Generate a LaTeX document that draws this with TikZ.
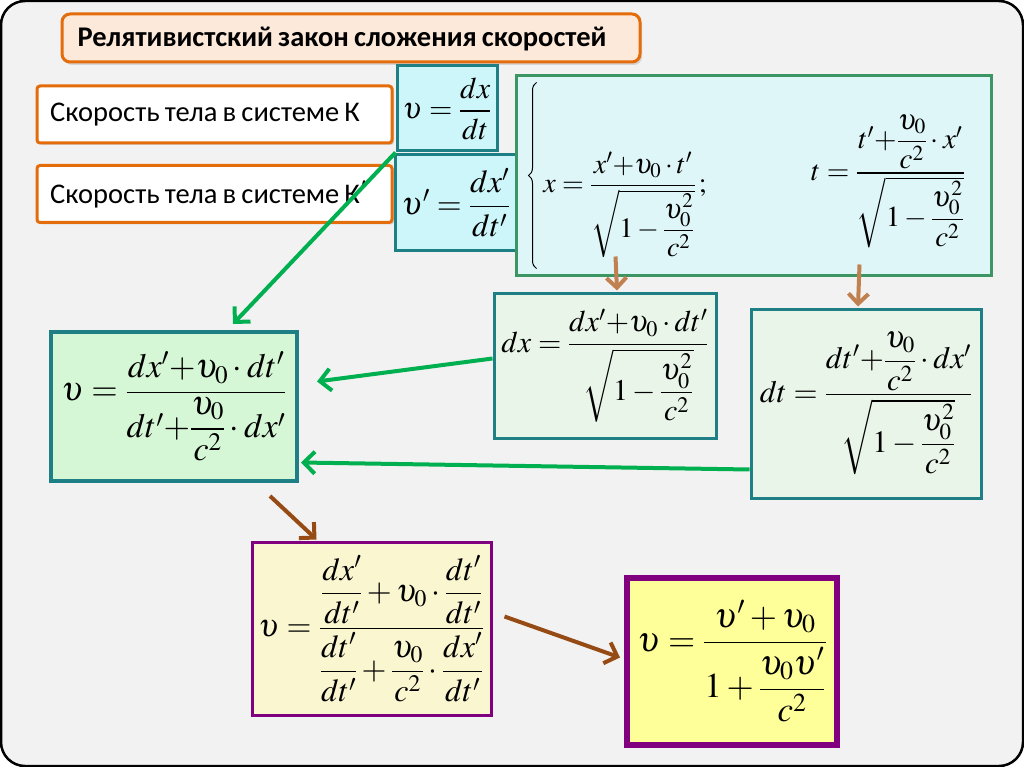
\RequirePackage{fix-cm}
\documentclass[tikz,border=0pt]{standalone}
\usepackage{amsmath}
\usepackage{mathptmx}
\usepackage[no-math]{fontspec}
\setmainfont{Carlito}[WordSpace=0.8]
\usetikzlibrary{arrows.meta,shadows,calc,decorations.pathreplacing}
\definecolor{orangeB}{RGB}{228,108,10}
\definecolor{peach}{RGB}{253,233,217}
\definecolor{tealB}{RGB}{30,128,132}
\definecolor{cyanF}{RGB}{204,246,250}
\definecolor{cyanL}{RGB}{222,246,248}
\definecolor{greenB}{RGB}{60,150,100}
\definecolor{lgreenF}{RGB}{232,245,232}
\definecolor{vgreenF}{RGB}{214,247,214}
\definecolor{purpleB}{RGB}{128,0,128}
\definecolor{lyellow}{RGB}{250,246,208}
\definecolor{yellowF}{RGB}{255,255,153}
\definecolor{arrGreen}{RGB}{0,176,80}
\definecolor{brownL}{RGB}{192,128,80}
\definecolor{brownD}{RGB}{150,75,20}
\definecolor{bgc}{RGB}{242,242,242}
\newcommand{\myfs}[1]{\fontsize{#1}{#1}\selectfont}
\begin{document}
\begin{tikzpicture}[x=1pt,y=-1pt,
  labelbox/.style={draw=orangeB, line width=3pt, fill=white, rounded corners=3pt,
    minimum width=355pt, minimum height=57pt,
    drop shadow={shadow xshift=2pt, shadow yshift=-2pt, opacity=0.25}},
  labeltext/.style={anchor=west, inner sep=0pt, font=\myfs{28.5}},
  tealbox/.style={draw=tealB, line width=3pt, inner sep=0pt},
  garrow/.style={draw=arrGreen, line width=4pt, -{Straight Barb[length=11pt,width=22pt]}},
  larrow/.style={draw=brownL, line width=4pt, -{Straight Barb[length=10pt,width=20pt]}},
  darrow/.style={draw=brownD, line width=4pt, -{Straight Barb[length=11pt,width=22pt]}}
]
\useasboundingbox (0,0) rectangle (1024,767);
\fill[white] (0,0) rectangle (1024,767);
\draw[fill=bgc, line width=2.5pt, rounded corners=24pt] (1,1) rectangle (1023,766);

% title
\node[draw=orangeB, line width=3pt, fill=peach, rounded corners=8pt,
  minimum width=578pt, minimum height=48pt,
  drop shadow={shadow xshift=2pt, shadow yshift=-3pt, opacity=0.25}] (title) at (351,38) {};
\node[font=\myfs{28.5}\bfseries, inner sep=0pt] (titletext) at (342,39) {Релятивистский закон сложения скоростей};

\node[labelbox] (sysK) at (214.5,114.5) {};
\node[labeltext] (sysKt) at (50,115) {Скорость тела в системе К};
\node[labelbox] (sysKp) at (214.5,194) {};
\node[labeltext] (sysKpt) at (50,194.5) {Скорость тела в системе К$'$};

% v boxes
\node[tealbox, fill=cyanF, minimum width=100pt, minimum height=85pt, font=\myfs{30}] (vK) at (447,108.5)
  {$\upsilon=\dfrac{dx}{dt}$};
\node[tealbox, fill=cyanF, minimum width=122pt, minimum height=95pt, font=\myfs{32}] (vKp) at (456,202.5)
  {$\upsilon'=\dfrac{dx'}{dt'}$};

% Lorentz box
\node[draw=greenB, line width=3pt, fill=cyanL, minimum width=475pt, minimum height=199pt] (lor) at (753.5,175.5) {};
\draw[line width=1pt, decorate, decoration={brace, amplitude=8pt}] ($(lor.south west)+(22,-8)$) -- ($(lor.north west)+(22,8)$);
\node[font=\myfs{28}, inner sep=0pt] (xf) at (625,205)
  {$x=\dfrac{x'{+}\upsilon_0\cdot t'}{\sqrt{1-\dfrac{\upsilon_0^2}{c^2}}}\,;$};
\node[font=\myfs{29}, inner sep=0pt] (tf) at (888,181)
  {$t=\dfrac{t'{+}\dfrac{\upsilon_0}{c^2}\cdot x'}{\sqrt{1-\dfrac{\upsilon_0^2}{c^2}}}$};

% dx, dt boxes
\node[tealbox, fill=lgreenF, minimum width=222pt, minimum height=145pt, font=\myfs{30}] (dx) at (605,365.5)
  {$dx=\dfrac{dx'{+}\upsilon_0\cdot dt'}{\sqrt{1-\dfrac{\upsilon_0^2}{c^2}}}$};
\node[tealbox, fill=lgreenF, minimum width=230pt, minimum height=189pt, font=\myfs{31}] (dt) at (866,403.5)
  {$dt=\dfrac{dt'{+}\dfrac{\upsilon_0}{c^2}\cdot dx'}{\sqrt{1-\dfrac{\upsilon_0^2}{c^2}}}$};

% left v box
\node[tealbox, line width=4pt, fill=vgreenF, minimum width=246pt, minimum height=149pt, font=\myfs{34}] (vL) at (174,406.5)
  {$\upsilon=\dfrac{dx'{+}\upsilon_0\cdot dt'}{dt'{+}\dfrac{\upsilon_0}{c^2}\cdot dx'}$};

% purple boxes
\node[draw=purpleB, line width=3pt, fill=lyellow, inner sep=0pt, minimum width=239pt, minimum height=173pt, font=\myfs{32}] (p1) at (371.5,628.5)
  {$\upsilon=\dfrac{\dfrac{dx'}{dt'}+\upsilon_0\cdot\dfrac{dt'}{dt'}}{\dfrac{dt'}{dt'}+\dfrac{\upsilon_0}{c^2}\cdot\dfrac{dx'}{dt'}}$};
\node[draw=purpleB, line width=6pt, fill=yellowF, inner sep=0pt, minimum width=210pt, minimum height=167pt, font=\myfs{35}] (fin) at (732,661.5)
  {$\upsilon=\dfrac{\upsilon'+\upsilon_0\vrule height 0pt depth 8pt width 0pt}{1+\dfrac{\upsilon_0\upsilon'}{c^2}}$};

% connectors
\draw[garrow] (vK.south west) -- ($(vL.north)+(59,-6)$);
\draw[garrow] ($(dx.west)+(0,-7)$) -- ($(vL.east)+(18,-25)$);
\draw[garrow] ($(dt.west)+(0,66)$) -- ($(vL.east)+(2,56)$);
\draw[larrow] ($(lor.south west)+(101,-20)$) -- ($(dx.north)+(12,-1)$);
\draw[larrow] ($(lor.south east)+(-133,-12)$) -- ($(dt.north)+(-8,-1)$);
\draw[darrow] ($(vL.south)+(96,13)$) -- ($(p1.north west)+(66,-1)$);
\draw[darrow] ($(p1.east)+(12,-12)$) -- ($(fin.west)+(-4,-4)$);
\end{tikzpicture}
\end{document}
